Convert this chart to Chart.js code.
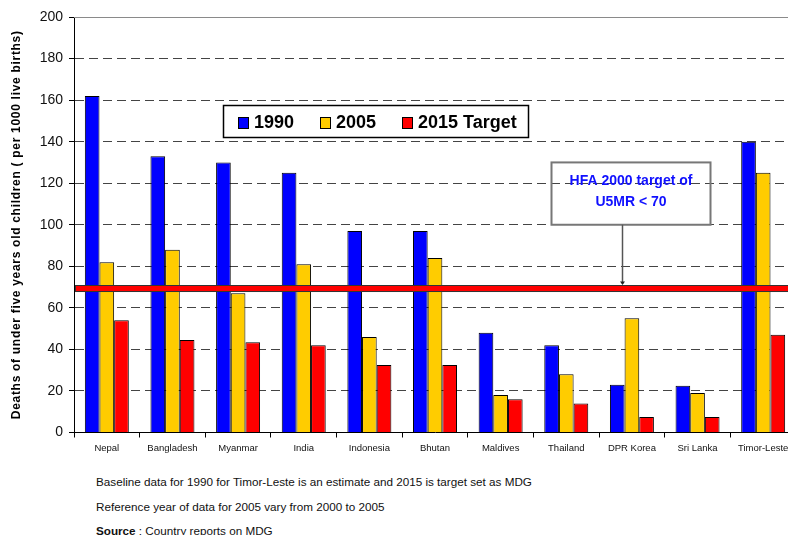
<!DOCTYPE html>
<html><head><meta charset="utf-8">
<script src="https://cdn.jsdelivr.net/npm/chart.js@4"></script>
<style>
html,body{margin:0;padding:0;background:#fff;overflow:hidden;}
#wrap{position:relative;width:788px;height:535px;overflow:hidden;background:#fff;}
#c{position:absolute;left:0;top:0;}
.note{position:absolute;left:96px;font:11.7px "Liberation Sans",Arial,sans-serif;color:#111;white-space:nowrap;line-height:13px;}
</style></head><body>
<div id="wrap">
<canvas id="c" width="796" height="470"></canvas>
<div class="note" style="top:475px">Baseline data for 1990 for Timor-Leste is an estimate and 2015 is target set as MDG</div>
<div class="note" style="top:500px">Reference year of data for 2005 vary from 2000 to 2005</div>
<div class="note" style="top:524px"><b>Source</b> : Country reports on MDG</div>
</div>
<script>
const countries = ["Nepal","Bangladesh","Myanmar","India","Indonesia","Bhutan","Maldives","Thailand","DPR Korea","Sri Lanka","Timor-Leste"];
const values1990 = [162,133,130,125,97,97,48,42,23,22.5,140];
const values2005 = [82,88,67,81,46,84,18,28,55,19,125];
const target2015 = [54,44.5,43.5,42,32.5,32.5,16,14,7.5,7.5,47];
const seriesLabels = ["1990","2005","2015 Target"];
const seriesColors = ["#0000ff","#ffcc00","#ff0000"];
const yMin = 0, yMax = 200, yStep = 20;
const hfaLineValue = 69.3;
const annotationLines = ["HFA 2000 target of","U5MR < 70"];
const annotationTop = 130, annotationBottom = 100;
const yTitle = "Deaths of under five years old children ( per 1000 live births)";

const FONT = '"Liberation Sans", Arial, sans-serif';

const overlay = {
  id: 'overlay',
  afterDraw(chart) {
    const {ctx, chartArea: a} = chart;
    ctx.save();
    ctx.translate(17, (a.top + a.bottom) / 2);
    ctx.rotate(-Math.PI / 2);
    ctx.font = 'bold 12px ' + FONT;
    if ('letterSpacing' in ctx) ctx.letterSpacing = '0.7px';
    ctx.fillStyle = '#000';
    ctx.textAlign = 'center'; ctx.textBaseline = 'middle';
    ctx.fillText(yTitle, 0, 0);
    ctx.restore();
  },
  afterDatasetsDraw(chart) {
    const {ctx, chartArea: a, scales: {y}} = chart;
    ctx.save();
    const yTop = Math.round(y.getPixelForValue(yMax)) + 0.5;
    ctx.strokeStyle = '#8a8a8a'; ctx.lineWidth = 1; ctx.setLineDash([]);
    ctx.beginPath(); ctx.moveTo(a.left, yTop); ctx.lineTo(a.right, yTop); ctx.stroke();

    const bx1 = 551.5, bx2 = 710.5;
    const by1 = y.getPixelForValue(annotationTop), by2 = y.getPixelForValue(annotationBottom);
    ctx.strokeStyle = '#777'; ctx.lineWidth = 2;
    ctx.strokeRect(bx1, by1, bx2 - bx1, by2 - by1);
    ctx.fillStyle = '#1010ff';
    ctx.font = 'bold 14px ' + FONT;
    ctx.textAlign = 'center'; ctx.textBaseline = 'middle';
    const cx = (bx1 + bx2) / 2;
    ctx.fillText(annotationLines[0], cx, by1 + 18.5);
    ctx.fillText(annotationLines[1], cx, by1 + 39.5);

    const yh = y.getPixelForValue(hfaLineValue);
    const ax = 622.5;
    ctx.strokeStyle = '#555'; ctx.lineWidth = 1.5;
    ctx.beginPath(); ctx.moveTo(ax, by2); ctx.lineTo(ax, yh - 5); ctx.stroke();
    ctx.fillStyle = '#222';
    ctx.beginPath(); ctx.moveTo(ax - 2.5, yh - 7); ctx.lineTo(ax + 2.5, yh - 7); ctx.lineTo(ax, yh - 3.5); ctx.closePath(); ctx.fill();

    ctx.fillStyle = '#ff0000'; ctx.strokeStyle = '#333'; ctx.lineWidth = 1;
    ctx.fillRect(a.left + 1, yh - 3.5, a.right - a.left, 7);
    ctx.strokeRect(a.left + 1.5, Math.round(yh - 3.5) + 0.5, a.right - a.left, 6);

    const lx = 223.5, ly = 105.5, lw = 305, lh = 32;
    ctx.fillStyle = '#fff'; ctx.fillRect(lx, ly, lw, lh);
    ctx.strokeStyle = '#000'; ctx.lineWidth = 1.5; ctx.strokeRect(lx, ly, lw, lh);
    const itemX = [238, 320, 402];
    ctx.font = 'bold 18px ' + FONT;
    ctx.textAlign = 'left'; ctx.textBaseline = 'middle';
    chart.data.datasets.forEach((ds, i) => {
      ctx.fillStyle = ds.backgroundColor;
      ctx.fillRect(itemX[i], 117, 10, 11);
      ctx.strokeStyle = '#000'; ctx.lineWidth = 1;
      ctx.strokeRect(itemX[i] + 0.5, 117.5, 10, 11);
      ctx.fillStyle = '#000';
      ctx.fillText(ds.label, itemX[i] + 16, 123);
    });
    ctx.restore();
  }
};

const yTickValues = [];
for (let v = yMin; v <= yMax; v += yStep) yTickValues.push(v);

new Chart(document.getElementById('c'), {
  type: 'bar',
  data: {
    labels: countries,
    datasets: [values1990, values2005, target2015].map((d, i) => ({
      label: seriesLabels[i],
      data: d,
      backgroundColor: seriesColors[i],
      borderColor: '#000',
      borderWidth: 1,
      categoryPercentage: 0.67,
      barPercentage: 1.0
    }))
  },
  options: {
    responsive: false,
    animation: false,
    devicePixelRatio: 1,
    layout: { padding: { top: 17, right: 0, left: 0, bottom: 0 } },
    plugins: { legend: { display: false }, tooltip: { enabled: false } },
    scales: {
      x: {
        offset: true,
        grid: { display: true, drawOnChartArea: false, drawTicks: true, tickLength: 5, tickColor: '#000', offset: true },
        border: { display: true, color: '#000', width: 1 },
        ticks: { font: { family: FONT, size: 9.5 }, color: '#111', padding: 5, maxRotation: 0, autoSkip: false },
        afterFit(scale) { scale.height = 37.5; }
      },
      y: {
        min: yMin, max: yMax,
        afterBuildTicks(scale) { scale.ticks = yTickValues.map(v => ({ value: v })); },
        grid: { color: '#444', lineWidth: 1, drawTicks: true, tickLength: 5, tickColor: '#000' },
        border: { display: true, color: '#000', width: 1, dash: [9, 5] },
        ticks: { font: { family: FONT, size: 14 }, color: '#111', padding: 6 },
        title: { display: false },
        afterFit(scale) { scale.width = 74; }
      }
    }
  },
  plugins: [overlay]
});
</script>
</body></html>
